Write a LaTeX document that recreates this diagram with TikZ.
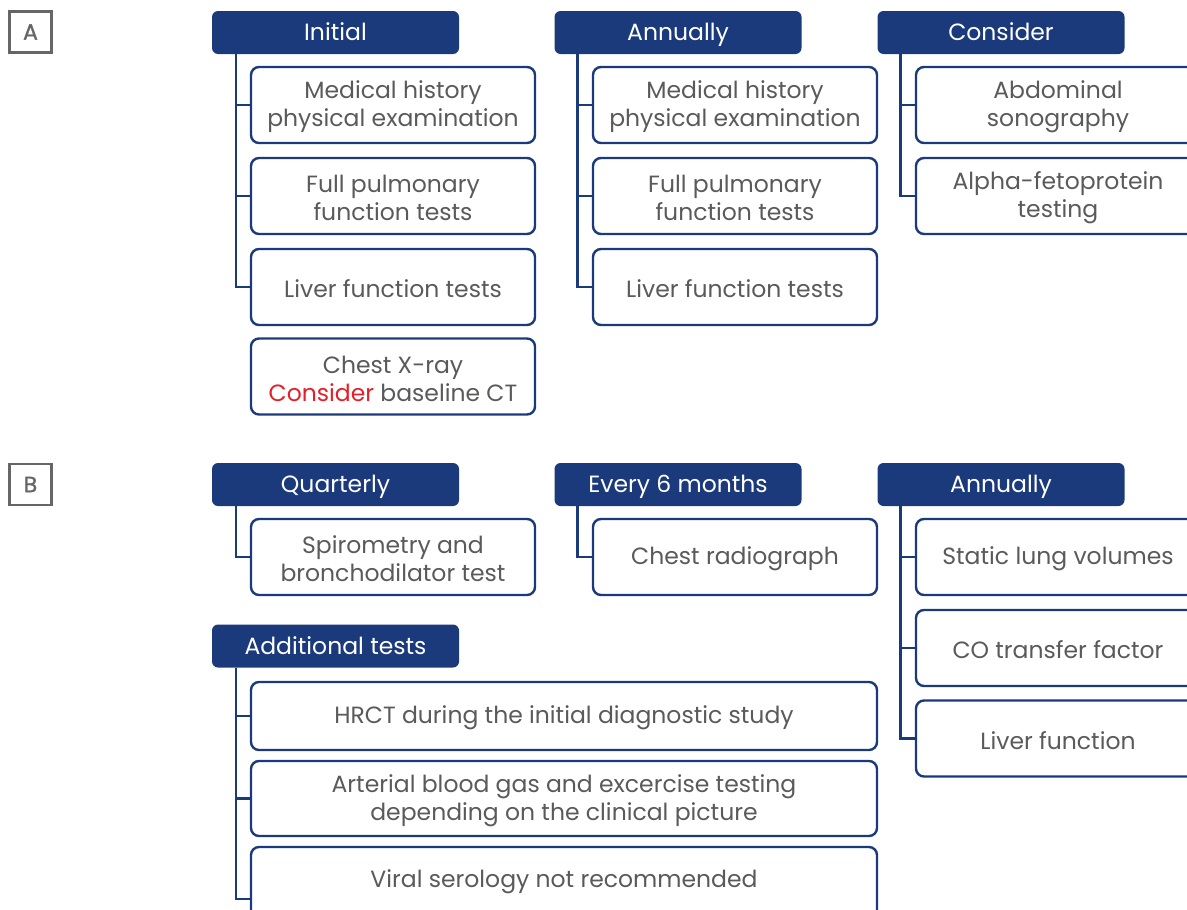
\documentclass[tikz,border=0pt]{standalone}
\usepackage{fontspec}
\setmainfont{Poppins}
\newfontfamily\lblfont[FakeBold=1.2]{Poppins}
\definecolor{navy}{HTML}{1B3A7B}
\definecolor{txtgray}{HTML}{5A5A5C}
\definecolor{lblgray}{HTML}{666666}
\definecolor{conred}{HTML}{E3202A}
\tikzset{
  hdr/.style={fill=navy, rounded corners=6pt, minimum width=247pt, minimum height=43pt,
    text=white, font=\fontsize{23.5}{28}\selectfont, inner sep=0pt,
    text height=19pt, text depth=3pt},
  itembox/.style={draw=navy, line width=2.4pt, rounded corners=8pt, minimum width=284pt,
    minimum height=76pt, inner sep=0pt},
  itemtext/.style={text=txtgray, align=center, inner sep=0pt, font=\fontsize{23.5}{28}\selectfont},
  lbl/.style={draw=lblgray, line width=2.4pt, minimum width=42pt, minimum height=41pt,
    text=lblgray, font=\lblfont\fontsize{22}{24}\selectfont, inner sep=0pt},
  conn/.style={draw=navy, line width=2.4pt}
}
\begin{document}
\begin{tikzpicture}[x=1pt,y=-1pt]
\useasboundingbox (0,0) rectangle (1187,910);
\clip (0,0) rectangle (1187,910);
% labels
\node[lbl] (labA) at (30.5,32) {A};
\node[lbl] (labB) at (30.5,484.5) {B};
% ---- Section A ----
\node[hdr] (hA1) at (335.5,32.5) {Initial};
\node[hdr] (hA2) at (678,32.5) {Annually};
\node[hdr] (hA3) at (1001,32.5) {Consider};
\node[itembox] (a11) at (393,105) {};
\node[itembox] (a12) at (393,196) {};
\node[itembox] (a13) at (393,287) {};
\node[itembox] (a14) at (393,376.5) {};
\node[itembox] (a21) at (735,105) {};
\node[itembox] (a22) at (735,196) {};
\node[itembox] (a23) at (735,287) {};
\node[itembox] (a31) at (1058,105) {};
\node[itembox] (a32) at (1058,196) {};
\node[itemtext] at ([yshift=-2pt]a11.center) {Medical history\\physical examination};
\node[itemtext] at ([yshift=-2pt]a12.center) {Full pulmonary\\function tests};
\node[itemtext] at ([yshift=-2pt]a13.center) {Liver function tests};
\node[itemtext] at ([yshift=-2pt]a14.center) {Chest X-ray\\{\color{conred}Consider} baseline CT};
\node[itemtext] at ([yshift=-2pt]a21.center) {Medical history\\physical examination};
\node[itemtext] at ([yshift=-2pt]a22.center) {Full pulmonary\\function tests};
\node[itemtext] at ([yshift=-2pt]a23.center) {Liver function tests};
\node[itemtext] at ([yshift=-2pt]a31.center) {Abdominal\\sonography};
\node[itemtext] at ([yshift=-2pt]a32.center) {Alpha-fetoprotein\\testing};
\coordinate (tA1) at ([xshift=24pt]hA1.south west);
\coordinate (tA2) at ([xshift=23pt]hA2.south west);
\coordinate (tA3) at ([xshift=23pt]hA3.south west);
\foreach \b in {a11,a12,a13} \draw[conn] (tA1) |- (\b.west);
\foreach \b in {a21,a22,a23} \draw[conn] (tA2) |- (\b.west);
\foreach \b in {a31,a32} \draw[conn] (tA3) |- (\b.west);
% ---- Section B ----
\node[hdr] (hB1) at (335.5,484.5) {Quarterly};
\node[hdr] (hB2) at (678,484.5) {Every 6 months};
\node[hdr] (hB3) at (1001,484.5) {Annually};
\node[hdr] (hB4) at (335.5,646) {Additional tests};
\node[itembox] (b11) at (393,557) {};
\node[itembox] (b21) at (735,557) {};
\node[itembox] (b31) at (1058,557) {};
\node[itembox] (b32) at (1058,648) {};
\node[itembox] (b33) at (1058,738.5) {};
\node[itembox, minimum width=626pt, minimum height=68pt] (b41) at (564,716) {};
\node[itembox, minimum width=626pt, minimum height=75pt] (b42) at (564,798.5) {};
\node[itembox, minimum width=626pt, minimum height=104pt] (b43) at (564,899) {};
\node[itemtext] at ([yshift=-2pt]b11.center) {Spirometry and\\bronchodilator test};
\node[itemtext] at ([yshift=-2pt]b21.center) {Chest radiograph};
\node[itemtext] at ([yshift=-2pt]b31.center) {Static lung volumes};
\node[itemtext] at ([yshift=-2pt]b32.center) {CO transfer factor};
\node[itemtext] at ([yshift=-2pt]b33.center) {Liver function};
\node[itemtext] at ([yshift=-2pt]b41.center) {HRCT during the initial diagnostic study};
\node[itemtext] at ([yshift=-2pt]b42.center) {Arterial blood gas and excercise testing\\depending on the clinical picture};
\node[itemtext] at (564,882) {Viral serology not recommended};
\coordinate (tB1) at ([xshift=24pt]hB1.south west);
\coordinate (tB2) at ([xshift=23pt]hB2.south west);
\coordinate (tB3) at ([xshift=23pt]hB3.south west);
\coordinate (tB4) at ([xshift=24pt]hB4.south west);
\draw[conn] (tB1) |- (b11.west);
\draw[conn] (tB2) |- (b21.west);
\foreach \b in {b31,b32,b33} \draw[conn] (tB3) |- (\b.west);
\foreach \b in {b41,b42,b43} \draw[conn] (tB4) |- (\b.west);
\end{tikzpicture}
\end{document}
